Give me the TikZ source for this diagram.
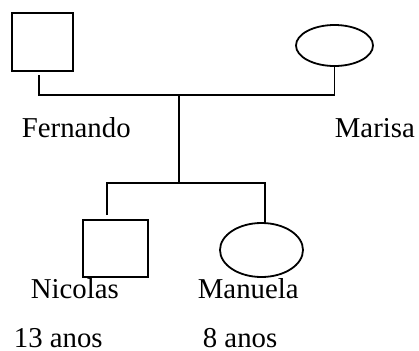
\documentclass[tikz,border=0pt]{standalone}
\usepackage{fontspec}
\setmainfont{Liberation Serif}
\usetikzlibrary{shapes.geometric}
\begin{document}
\begin{tikzpicture}[x=1bp,y=-1bp,line width=1.8bp,
  male/.style={draw,rectangle,inner sep=0pt},
  female/.style={draw,ellipse,inner sep=0pt},
  lbl/.style={anchor=base west,inner sep=0pt,text depth=0pt,font=\fontsize{28.9}{30}\selectfont},
  link/.style={draw,line width=1.8bp}]
\useasboundingbox (0,0) rectangle (419,351);
\node[male,minimum width=61bp,minimum height=58bp] (f) at (42.5,42) {};
\node[female,minimum width=77bp,minimum height=41bp] (m) at (334.5,45.5) {};
\node[male,minimum width=65bp,minimum height=57bp] (n) at (115.5,248.5) {};
\node[female,minimum width=83bp,minimum height=54bp] (ma) at (261.5,250) {};
\coordinate (fl) at (39,75);
\coordinate (c1) at (179,95);
\coordinate (c2) at (179,183);
\coordinate (nl) at (107,215);
\coordinate (mal) at (265,223);
\path[link] (fl) |- (c1) -| (m.south);
\path[link] (c1) -- (c2);
\path[link] (nl) |- (c2) -| (mal);
\node[lbl] (tf) at (21,137) {Fernando};
\node[lbl] (tm) at (334,137) {Marisa};
\node[lbl] (tn) at (30,298) {Nicolas};
\node[lbl] (tma) at (197,298) {Manuela};
\node[lbl] (an) at (13,347.5) {13 anos};
\node[lbl] (ama) at (202,347.5) {8 anos};
\end{tikzpicture}
\end{document}
